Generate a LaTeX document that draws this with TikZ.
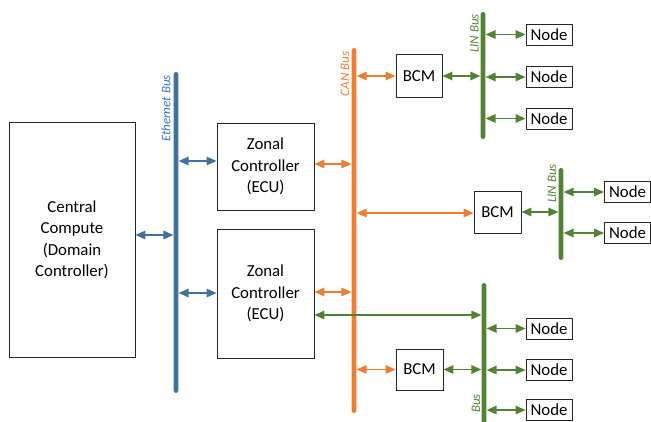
\documentclass[tikz,border=0pt]{standalone}
\usepackage{fontspec}
\setmainfont{Carlito}
\usetikzlibrary{arrows.meta}
\definecolor{ethblue}{HTML}{41719C}
\definecolor{ethlabel}{HTML}{4472C4}
\definecolor{canorange}{HTML}{ED7D31}
\definecolor{lingreen}{HTML}{548235}
\tikzset{
  box/.style={draw=black!85, line width=0.9pt, inner sep=0pt, align=center,
    font=\fontsize{16.8}{21.5}\selectfont},
  nodebox/.style={box, minimum width=46pt, minimum height=21pt},
  bcmbox/.style={box, minimum width=47pt, minimum height=42pt},
  bus/.style={rounded corners=2.4pt, minimum width=4.8pt, inner sep=0pt},
  buslabel/.style={rotate=90, inner sep=0pt, font=\fontsize{13}{14}\selectfont\itshape},
  conn/.style={line width=1.5pt, {Triangle[length=10pt,width=8.5pt]}-{Triangle[length=10pt,width=8.5pt]}},
  bconn/.style={conn, draw=ethblue},
  oconn/.style={conn, draw=canorange},
  gconn/.style={conn, draw=lingreen},
}
\begin{document}
\begin{tikzpicture}[x=1pt, y=-1pt]
\useasboundingbox (0,0) rectangle (651,421);
\clip (0,0) rectangle (651,421);
% boxes
\node[box, minimum width=126pt, minimum height=235pt] (cc) at (72,240) {Central\\Compute\\(Domain\\Controller)};
\node[box, minimum width=97pt, minimum height=87pt] (z1) at (265.5,166.5) {Zonal\\Controller\\(ECU)};
\node[box, minimum width=97pt, minimum height=129pt] (z2) at (265.5,293.5) {Zonal\\Controller\\(ECU)};
\node[bcmbox, minimum width=46pt, minimum height=43pt] (bcm1) at (419,76) {BCM};
\node[bcmbox] (bcm2) at (497.5,212) {BCM};
\node[bcmbox, minimum height=41pt] (bcm3) at (419.5,369.5) {BCM};
\node[nodebox] (n11) at (549,34.5) {Node};
\node[nodebox] (n12) at (549,77) {Node};
\node[nodebox] (n13) at (549,118.5) {Node};
\node[nodebox] (n21) at (627.5,192) {Node};
\node[nodebox] (n22) at (627.5,233) {Node};
\node[nodebox] (n31) at (549,328.5) {Node};
\node[nodebox] (n32) at (549,370) {Node};
\node[nodebox] (n33) at (549,410) {Node};
% buses
\node[bus, fill=ethblue, minimum height=321pt] (eth) at (176,232.5) {};
\node[bus, fill=canorange, minimum height=365pt] (can) at (354,230.5) {};
\node[bus, fill=lingreen, minimum height=127pt] (lin1) at (483,75.5) {};
\node[bus, fill=lingreen, minimum height=92pt] (lin2) at (561,214) {};
\node[bus, fill=lingreen, minimum height=145pt] (lin3) at (484,355.5) {};
% bus labels
\node[buslabel, text=ethlabel] (ethl) at (166,108.5) {Ethernet Bus};
\node[buslabel, text=canorange] (canl) at (345,74) {CAN Bus};
\node[buslabel, text=lingreen] (lin1l) at (474.5,33.5) {LIN Bus};
\node[buslabel, text=lingreen] (lin2l) at (552,183.5) {LIN Bus};
\node[buslabel, text=lingreen] (lin3l) at (476,403.5) {Bus};
% ethernet connectors
\draw[bconn] (cc.east |- 0,235) -- (eth.west |- 0,235);
\draw[bconn] (eth.east |- 0,161) -- (z1.west |- 0,161);
\draw[bconn] (eth.east |- 0,293) -- (z2.west |- 0,293);
% CAN connectors
\draw[oconn] (z1.east |- 0,164) -- (can.west |- 0,164);
\draw[oconn] (z2.east |- 0,292) -- (can.west |- 0,292);
\draw[oconn] (can.east |- bcm1.west) -- (bcm1.west);
\draw[oconn] (can.east |- 0,213) -- (bcm2.west |- 0,213);
\draw[oconn] (can.east |- bcm3.west) -- (bcm3.west);
% LIN connectors
\draw[gconn] (z2.east |- 0,315) -- (lin3.west |- 0,315);
\draw[gconn] (bcm1.east) -- (lin1.west |- bcm1.east);
\draw[gconn] (bcm2.east) -- (lin2.west |- bcm2.east);
\draw[gconn] (bcm3.east) -- (lin3.west |- bcm3.east);
\foreach \n in {n11,n12,n13} \draw[gconn] (lin1.east |- \n.west) -- (\n.west);
\foreach \n in {n21,n22} \draw[gconn] (lin2.east |- \n.west) -- (\n.west);
\foreach \n in {n31,n32,n33} \draw[gconn] (lin3.east |- \n.west) -- (\n.west);
\end{tikzpicture}
\end{document}
